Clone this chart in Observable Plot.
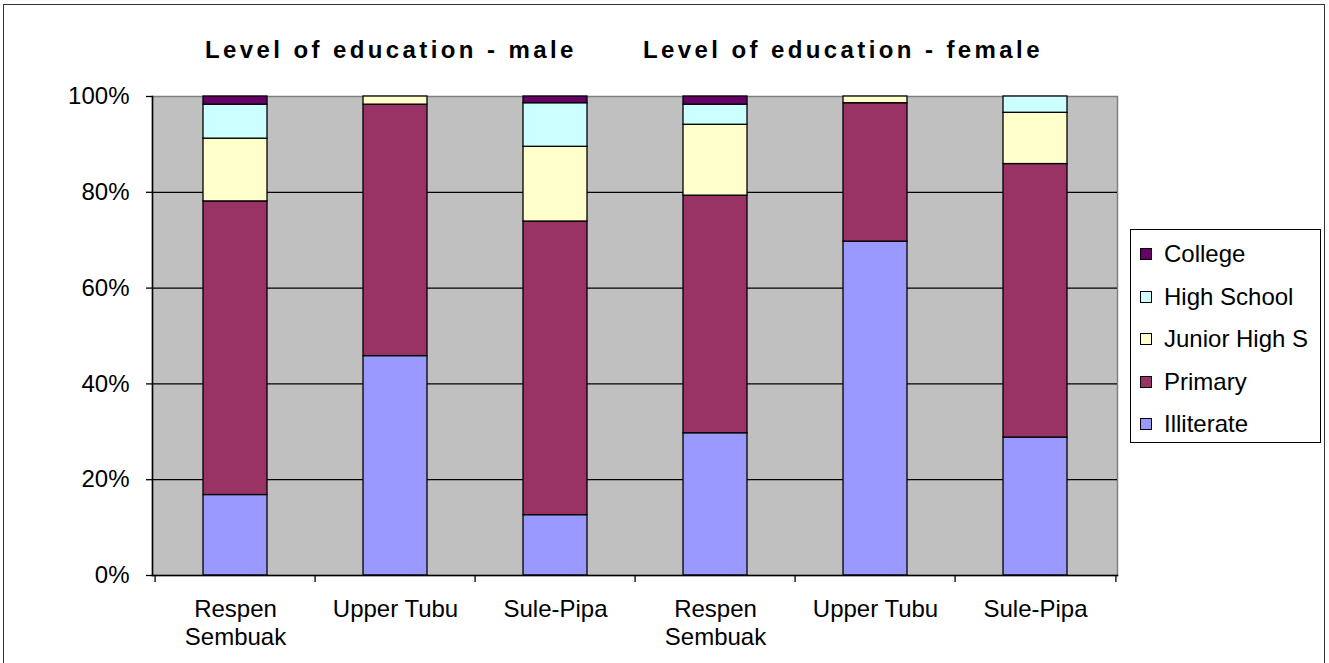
<!DOCTYPE html>
<html><head><meta charset="utf-8">
<script src="https://cdn.jsdelivr.net/npm/d3@7"></script>
<script src="https://cdn.jsdelivr.net/npm/@observablehq/plot@0.6"></script>
<style>
body{margin:0;background:#fff;font-family:Arial,"Liberation Sans",sans-serif;color:#000;}
#wrap{position:relative;width:1329px;height:663px;overflow:hidden;}
#border{position:absolute;left:3px;top:4px;width:1322px;height:700px;border:1px solid #333;box-sizing:border-box;}
#chart{position:absolute;left:0;top:0;}
.title{position:absolute;top:35px;font-weight:bold;font-size:24px;line-height:30px;letter-spacing:3.4px;white-space:nowrap;}
#legend{position:absolute;left:1130px;top:229px;width:191px;height:214px;border:1px solid #000;background:#fff;box-sizing:border-box;}
.item{position:absolute;left:9px;height:30px;display:flex;align-items:center;font-size:24px;white-space:nowrap;}
.sw{width:12px;height:12px;border:1px solid #000;box-sizing:border-box;margin-right:12px;}
</style></head>
<body>
<div id="wrap">
  <div id="border"></div>
  <div id="chart"></div>
  <div id="t0" class="title"></div>
  <div id="t1" class="title"></div>
  <div id="legend"></div>
</div>
<script>
// ---- data ----
const sites = ["Respen\nSembuak", "Upper Tubu", "Sule-Pipa"];
const genders = ["male", "female"];
const titles = ["Level of education - male", "Level of education - female"];
const levels = ["Illiterate", "Primary", "Junior High S", "High School", "College"];
const colors = ["#9999FF", "#993366", "#FFFFCC", "#CCFFFF", "#660066"];
// values in %, order: male (Respen Sembuak, Upper Tubu, Sule-Pipa), female (same)
const illiterate = [16.8, 45.8, 12.6, 29.7, 69.7, 28.8];
const primary    = [61.3, 52.5, 61.3, 49.6, 28.9, 57.1];
const juniorHigh = [13.1, 1.7, 15.6, 14.8, 1.4, 10.7];
const highSchool = [7.1, 0, 9.1, 4.2, 0, 3.4];
const college    = [1.7, 0, 1.4, 1.7, 0, 0];
const yTicks = [0, 20, 40, 60, 80, 100];
const yTickLabels = ["0%", "20%", "40%", "60%", "80%", "100%"];

// ---- build table ----
const series = [illiterate, primary, juniorHigh, highSchool, college];
const keys = [];
genders.forEach(g => sites.forEach(s => keys.push(g + "|" + s)));
const rows = [];
levels.forEach((lev, li) => keys.forEach((k, ki) => {
  const v = series[li][ki];
  if (v > 0) rows.push({key: k, level: lev, value: v});
}));

const W = 1329, H = 663, mL = 152, mR = 212, mT = 96, mB = 88;
const step = (W - mL - mR) / keys.length;

const chart = Plot.plot({
  width: W, height: H,
  marginLeft: mL, marginRight: mR, marginTop: mT, marginBottom: mB,
  style: {background: "transparent", fontFamily: "Arial, 'Liberation Sans', sans-serif", fontSize: "24px", color: "#000"},
  x: {domain: keys, paddingInner: 0.6, paddingOuter: 0.3, label: null},
  y: {domain: [0, 100], label: null},
  color: {domain: levels, range: colors},
  marks: [
    Plot.frame({fill: "#C0C0C0", stroke: "#808080", strokeWidth: 1.5}),
    Plot.gridY(yTicks.slice(1, -1), {stroke: "#000", strokeOpacity: 1, strokeWidth: 1.3}),
    Plot.barY(rows, {x: "key", y: "value", fill: "level", stroke: "#000", strokeWidth: 1.3}),
    Plot.frame({anchor: "left", stroke: "#000", strokeWidth: 1.5}),
    Plot.frame({anchor: "bottom", stroke: "#000", strokeWidth: 1.5}),
    Plot.ruleX(keys, {x: d => d, y1: 0, y2: 0, insetTop: 7, dx: -step / 2, stroke: "#000", strokeWidth: 1.3}),
    Plot.ruleX(keys.slice(-1), {x: d => d, y1: 0, y2: 0, insetTop: 7, dx: step / 2, stroke: "#000", strokeWidth: 1.3}),
    Plot.axisY(yTicks, {tickSize: 6, tickPadding: 17, tickFormat: (d, i) => yTickLabels[yTicks.indexOf(d)], fontSize: 24, strokeWidth: 1.3}),
    Plot.axisX({tickSize: 0, tickPadding: 21, tickFormat: d => d.split("|")[1], fontSize: 24, lineHeight: 1.18})
  ]
});
document.getElementById("chart").appendChild(chart);

// titles
const t0 = document.getElementById("t0"), t1 = document.getElementById("t1");
t0.textContent = titles[0]; t0.style.left = "205px";
t1.textContent = titles[1]; t1.style.left = "643px";

// legend (reverse order, College on top)
const legend = document.getElementById("legend");
const centers = [24, 67, 109, 152, 194];
levels.slice().reverse().forEach((lev, i) => {
  const li = levels.indexOf(lev);
  const it = document.createElement("div");
  it.className = "item";
  it.style.top = (centers[i] - 15) + "px";
  const sw = document.createElement("span");
  sw.className = "sw"; sw.style.background = colors[li];
  const tx = document.createElement("span");
  tx.textContent = lev;
  it.appendChild(sw); it.appendChild(tx);
  legend.appendChild(it);
});
</script>
</body></html>
